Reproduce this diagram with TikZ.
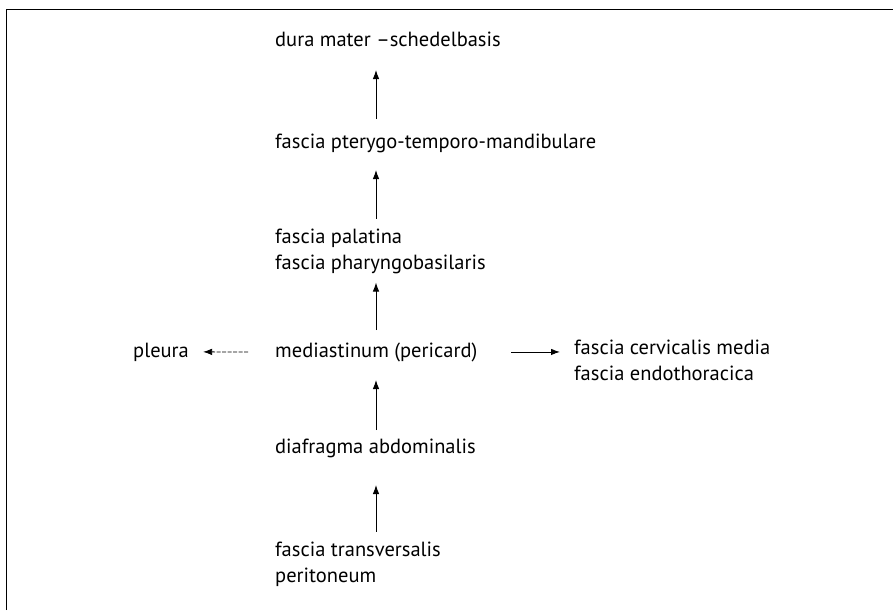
\documentclass[tikz,border=0pt]{standalone}
\usepackage{fontspec}
\setmainfont{PT Sans}
\usetikzlibrary{arrows.meta,calc}
\begin{document}
\begin{tikzpicture}[x=1pt,y=-1pt,
  lbl/.style={anchor=base west,inner sep=0pt,align=left,
    font=\fontsize{20.5}{25.5}\selectfont},
  arr/.style={-{Latex[length=9pt,width=6.5pt]},line width=0.9pt},
  darr/.style={-{Latex[length=9pt,width=6.5pt]},line width=0.8pt,dash pattern=on 4pt off 1.5pt}]
\useasboundingbox (0,0) rectangle (893,610);
\draw[line width=0.7pt] (6,610) -- (6,9) -- (893,9);
\coordinate (ax) at (376,0);
\node[lbl] (dura) at (275,46) {dura mater –schedelbasis};
\node[lbl] (ptery) at (275,148) {fascia pterygo-temporo-mandibulare};
\node[lbl] (pala) at (275,269) {fascia palatina\\fascia pharyngobasilaris};
\node[lbl] (med) at (275,357) {mediastinum (pericard)};
\node[lbl] (pleu) at (133,357) {pleura};
\node[lbl] (cerv) at (574,380) {fascia cervicalis media\\fascia endothoracica};
\node[lbl] (diaf) at (275,453) {diafragma abdominalis};
\node[lbl] (trans) at (275,582) {fascia transversalis\\peritoneum};
\draw[arr] ($(ptery.base -| ax)+(0,-29)$) -- ($(dura.base -| ax)+(0,24)$);
\draw[arr] ($(pala.north -| ax)+(0,-10)$) -- ($(ptery.base -| ax)+(0,22)$);
\draw[arr] ($(med.base -| ax)+(0,-27)$) -- ($(pala.south -| ax)+(0,9)$);
\draw[arr] ($(diaf.base -| ax)+(0,-23)$) -- ($(med.base -| ax)+(0,23)$);
\draw[arr] ($(trans.north -| ax)+(0,-10)$) -- ($(diaf.base -| ax)+(0,32)$);
\draw[darr] ([xshift=-27pt]med.west) -- ([xshift=14pt]pleu.east);
\draw[arr] ([xshift=34pt]med.east) -- ([xshift=-14pt]cerv.west |- med.east);
\end{tikzpicture}
\end{document}
